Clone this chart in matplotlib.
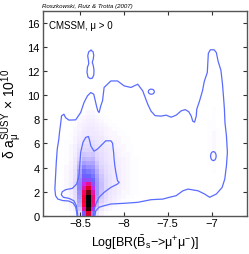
import numpy as np
import matplotlib
matplotlib.use('Agg')
import matplotlib.pyplot as plt
from matplotlib.colors import LinearSegmentedColormap
from matplotlib.patches import Ellipse

plt.rcParams['font.family'] = ['Liberation Sans', 'DejaVu Sans']
plt.rcParams['mathtext.fontset'] = 'custom'
plt.rcParams['mathtext.rm'] = 'Liberation Sans'
plt.rcParams['mathtext.it'] = 'Liberation Sans:italic'
plt.rcParams['mathtext.bf'] = 'Liberation Sans:bold'

# ---------------- data ----------------
x_ticks = [-8.5, -8, -7.5, -7]
x_tick_labels = ['\u22128.5', '\u22128', '\u22127.5', '\u22127']
y_ticks = [0, 2, 4, 6, 8, 10, 12, 14, 16]

# posterior histogram: columns (left -> right), each listing cells from y=0 upward
hist_x_start, hist_dx = -8.68, 0.05
hist_y_start, hist_dy = 0.0, 0.35
hist_cols = [
    [0, 1, 1, 2, 2, 2, 2, 2, 2, 2, 2, 2, 1, 1, 1, 1, 1, 1],
    [1, 2, 3, 4, 4, 5, 5, 5, 4, 4, 4, 3, 3, 2, 2, 2, 2, 1, 1, 1],
    [2, 4, 7, 9, 10, 11, 12, 12, 11, 10, 9, 8, 7, 6, 5, 4, 4, 3, 3, 2, 2, 1, 1],
    [10, 18, 24, 27, 30, 32, 34, 34, 33, 30, 27, 23, 19, 15, 12, 10, 8, 6, 5, 4, 3, 3, 2, 2, 1],
    [45, 62, 68, 70, 70, 66, 60, 55, 48, 44, 40, 34, 28, 22, 18, 14, 11, 9, 7, 6, 5, 4, 3, 2, 1],
    [75, 90, 100, 100, 98, 86, 76, 62, 47, 42, 37, 31, 26, 21, 17, 14, 12, 10, 9, 7, 6, 5, 4, 3, 2],
    [35, 55, 62, 64, 64, 60, 54, 47, 42, 38, 34, 30, 26, 22, 18, 15, 12, 10, 8, 7, 6, 5, 4, 3, 2],
    [8, 15, 22, 26, 28, 30, 30, 30, 29, 27, 24, 21, 18, 15, 13, 11, 9, 8, 7, 6, 5, 4, 3, 2, 1],
    [3, 7, 11, 15, 17, 19, 20, 20, 19, 18, 16, 14, 12, 11, 10, 9, 8, 7, 6, 5, 4, 3, 2, 1, 1],
    [1, 3, 6, 9, 11, 12, 13, 13, 13, 12, 11, 10, 9, 8, 8, 7, 6, 5, 4, 3, 3, 2, 1, 1],
    [0, 2, 4, 6, 7, 8, 9, 9, 9, 9, 8, 8, 7, 7, 6, 6, 5, 4, 3, 2, 2, 1, 1],
    [0, 1, 2, 4, 5, 6, 6, 7, 7, 7, 7, 6, 6, 5, 5, 4, 3, 3, 2, 2, 1, 1],
    [0, 1, 1, 2, 3, 4, 4, 5, 5, 5, 5, 5, 4, 4, 3, 3, 2, 2, 2, 1, 1],
    [0, 0, 1, 1, 2, 2, 3, 3, 3, 3, 3, 3, 3, 3, 2, 2, 2, 1, 1, 1],
    [0, 0, 0, 1, 1, 2, 2, 2, 2, 2, 2, 2, 2, 2, 2, 1, 1, 1, 1],
    [0, 0, 0, 0, 1, 1, 1, 1, 1, 1, 1, 1, 1, 1, 1, 1, 1],
    [0, 0, 0, 0, 0, 1, 1, 1, 1, 1, 1, 1, 1, 1],
]
# faint patch on the right
right_x_start, right_dx = -7.05, 0.05
right_y_start, right_dy = 3.5, 0.35
right_cols = [
    [0, 0, 1, 1, 1, 1, 1, 1, 1, 1, 1, 1, 1, 0, 0, 0],
    [1, 1, 1, 2, 2, 2, 2, 2, 2, 2, 1, 1, 1, 1, 1, 1],
    [0, 0, 0, 1, 1, 1, 1, 1, 1, 1, 1, 0, 0, 0, 0, 0],
]

# contours (outer and inner credible regions), in data units
outer_x = [-8.532, -8.538, -8.549, -8.578, -8.629, -8.698, -8.752, -8.778, -8.786, -8.778,
           -8.770, -8.759, -8.741, -8.733, -8.721, -8.710, -8.683, -8.664, -8.626, -8.549,
           -8.492, -8.454, -8.415, -8.377, -8.343, -8.312, -8.297, -8.282, -8.263, -8.243,
           -8.225, -8.148, -8.072, -7.996, -7.919, -7.842, -7.785, -7.728, -7.690, -7.644,
           -7.576, -7.518, -7.461, -7.404, -7.346, -7.301, -7.261, -7.232, -7.215, -7.194,
           -7.175, -7.169, -7.137, -7.104, -7.083, -7.049, -7.041, -7.037, -7.014, -6.972,
           -6.946, -6.926, -6.894, -6.877, -6.865, -6.854, -6.848, -6.831, -6.820, -6.831,
           -6.850, -6.880, -6.946, -7.022, -7.080, -7.155, -7.270, -7.327, -7.404, -7.480,
           -7.556, -7.690, -7.842, -7.996, -8.148, -8.225, -8.282, -8.320, -8.332]
outer_y = [-0.10, 0.31, 0.72, 1.05, 1.22, 1.26, 1.38, 1.66, 2.21, 3.32,
           4.43, 5.53, 6.36, 6.94, 7.60, 8.29, 8.43, 8.14, 7.94, 7.96,
           8.57, 9.40, 9.95, 10.23, 10.09, 9.12, 8.71, 8.57, 9.12, 9.54,
           10.65, 11.19, 11.19, 10.78, 10.65, 10.92, 10.37, 9.26, 8.68, 8.31,
           8.27, 8.35, 8.18, 8.35, 8.71, 8.81, 8.64, 8.27, 7.85, 7.77,
           8.27, 8.85, 9.54, 10.37, 11.17, 11.89, 12.99, 13.49, 13.78, 13.78,
           13.55, 12.83, 12.08, 11.00, 9.93, 8.85, 7.74, 6.63, 5.26, 4.15,
           3.04, 2.35, 1.80, 1.53, 1.80, 2.07, 2.21, 2.07, 1.66, 1.53,
           1.38, 1.33, 1.11, 1.03, 0.97, 0.83, 0.70, 0.41, -0.10]

inner_x = [-8.523, -8.530, -8.541, -8.569, -8.626, -8.690, -8.713, -8.702, -8.664, -8.587,
           -8.538, -8.511, -8.500, -8.492, -8.466, -8.435, -8.404, -8.389, -8.377, -8.340,
           -8.301, -8.243, -8.206, -8.148, -8.129, -8.117, -8.111, -8.103, -8.091, -8.072,
           -8.053, -8.072, -8.148, -8.225, -8.282, -8.320, -8.340, -8.347]
inner_y = [-0.10, 0.28, 0.83, 1.24, 1.44, 1.53, 1.74, 1.99, 2.16, 2.27,
           2.63, 3.32, 4.43, 5.26, 6.09, 6.50, 6.58, 6.22, 5.80, 5.36,
           5.53, 5.95, 6.22, 6.22, 6.03, 5.26, 4.70, 4.15, 3.60, 2.90,
           2.77, 2.63, 2.35, 1.94, 1.53, 0.97, 0.41, -0.10]

island_x = [-8.374, -8.351, -8.343, -8.349, -8.360, -8.349, -8.340, -8.343, -8.360, -8.383,
            -8.408, -8.420, -8.415, -8.400, -8.404, -8.412, -8.400, -8.374]
island_y = [13.74, 13.62, 13.33, 12.99, 12.74, 12.49, 12.08, 11.67, 11.42, 11.39,
            11.50, 11.92, 12.33, 12.62, 12.91, 13.28, 13.62, 13.74]

# small closed islands: centre x, centre y, width, height
blob_cx = [-7.687, -6.980]
blob_cy = [10.30, 4.95]
blob_w = [0.068, 0.063]
blob_h = [0.42, 0.74]

# ---------------- figure ----------------
fig = plt.figure(figsize=(2.49, 2.55), dpi=100)
ax = fig.add_axes([0.1707, 0.1502, 0.8201, 0.8027])

cmap = LinearSegmentedColormap.from_list('post', [
    (0.00, (1.0, 1.0, 1.0)),
    (0.03, (0.97, 0.95, 1.0)),
    (0.15, (0.86, 0.82, 1.0)),
    (0.30, (0.62, 0.58, 1.0)),
    (0.42, (0.40, 0.40, 1.0)),
    (0.55, (0.80, 0.15, 0.95)),
    (0.68, (1.0, 0.0, 0.25)),
    (0.82, (0.75, 0.0, 0.08)),
    (0.92, (0.05, 0.0, 0.0)),
    (1.00, (0.0, 0.0, 0.0)),
])


def to_grid(cols):
    n = max(len(c) for c in cols)
    g = np.zeros((n, len(cols)))
    for j, c in enumerate(cols):
        g[:len(c), j] = c
    return g


H = to_grid(hist_cols)
xe = hist_x_start + hist_dx * np.arange(H.shape[1] + 1)
ye = hist_y_start + hist_dy * np.arange(H.shape[0] + 1)
ax.pcolormesh(xe, ye, H, cmap=cmap, vmin=0, vmax=100, shading='flat', zorder=1)

R = to_grid(right_cols)
xr = right_x_start + right_dx * np.arange(R.shape[1] + 1)
yr = right_y_start + right_dy * np.arange(R.shape[0] + 1)
ax.pcolormesh(xr, yr, R, cmap=cmap, vmin=0, vmax=100, shading='flat', zorder=1)

lc = '#5a6cff'
lw = 0.9
ax.plot(outer_x, outer_y, color=lc, lw=lw, zorder=3)
ax.plot(inner_x, inner_y, color=lc, lw=lw, zorder=3)
ax.plot(island_x, island_y, color=lc, lw=lw, zorder=3)
for cx, cy, w, h in zip(blob_cx, blob_cy, blob_w, blob_h):
    ax.add_patch(Ellipse((cx, cy), w, h, fill=False, edgecolor=lc, lw=lw, zorder=3))

ax.set_xlim(-8.927, -6.60)
ax.set_ylim(0, 17)
ax.set_xticks(x_ticks)
ax.set_xticklabels(x_tick_labels)
ax.set_yticks(y_ticks)
ax.tick_params(direction='in', length=3, width=0.8, top=True, right=True,
               labelsize=8, pad=2, color='#333333')
for s in ax.spines.values():
    s.set_linewidth(1.0)
    s.set_color('#555555')

ax.set_xlabel('Log[BR($\\bar{\\mathrm{B}}_{\\mathrm{s}}$\u2212>\u03bc$^{+}$\u03bc$^{-}$)]',
              fontsize=9, labelpad=3)
ax.set_ylabel('\u03b4 a$_{\\mathrm{\u03bc}}^{\\mathrm{SUSY}}$ \u00d7 10$^{10}$',
              fontsize=10, labelpad=2)
ax.text(0.03, 0.955, 'CMSSM, \u03bc > 0', transform=ax.transAxes, fontsize=7,
        va='top', ha='left')
fig.text(0.168, 0.975, 'Roszkowski, Ruiz & Trotta (2007)', fontsize=4.4,
         style='italic', va='center', ha='left')

fig.savefig('out.png', dpi=100)
